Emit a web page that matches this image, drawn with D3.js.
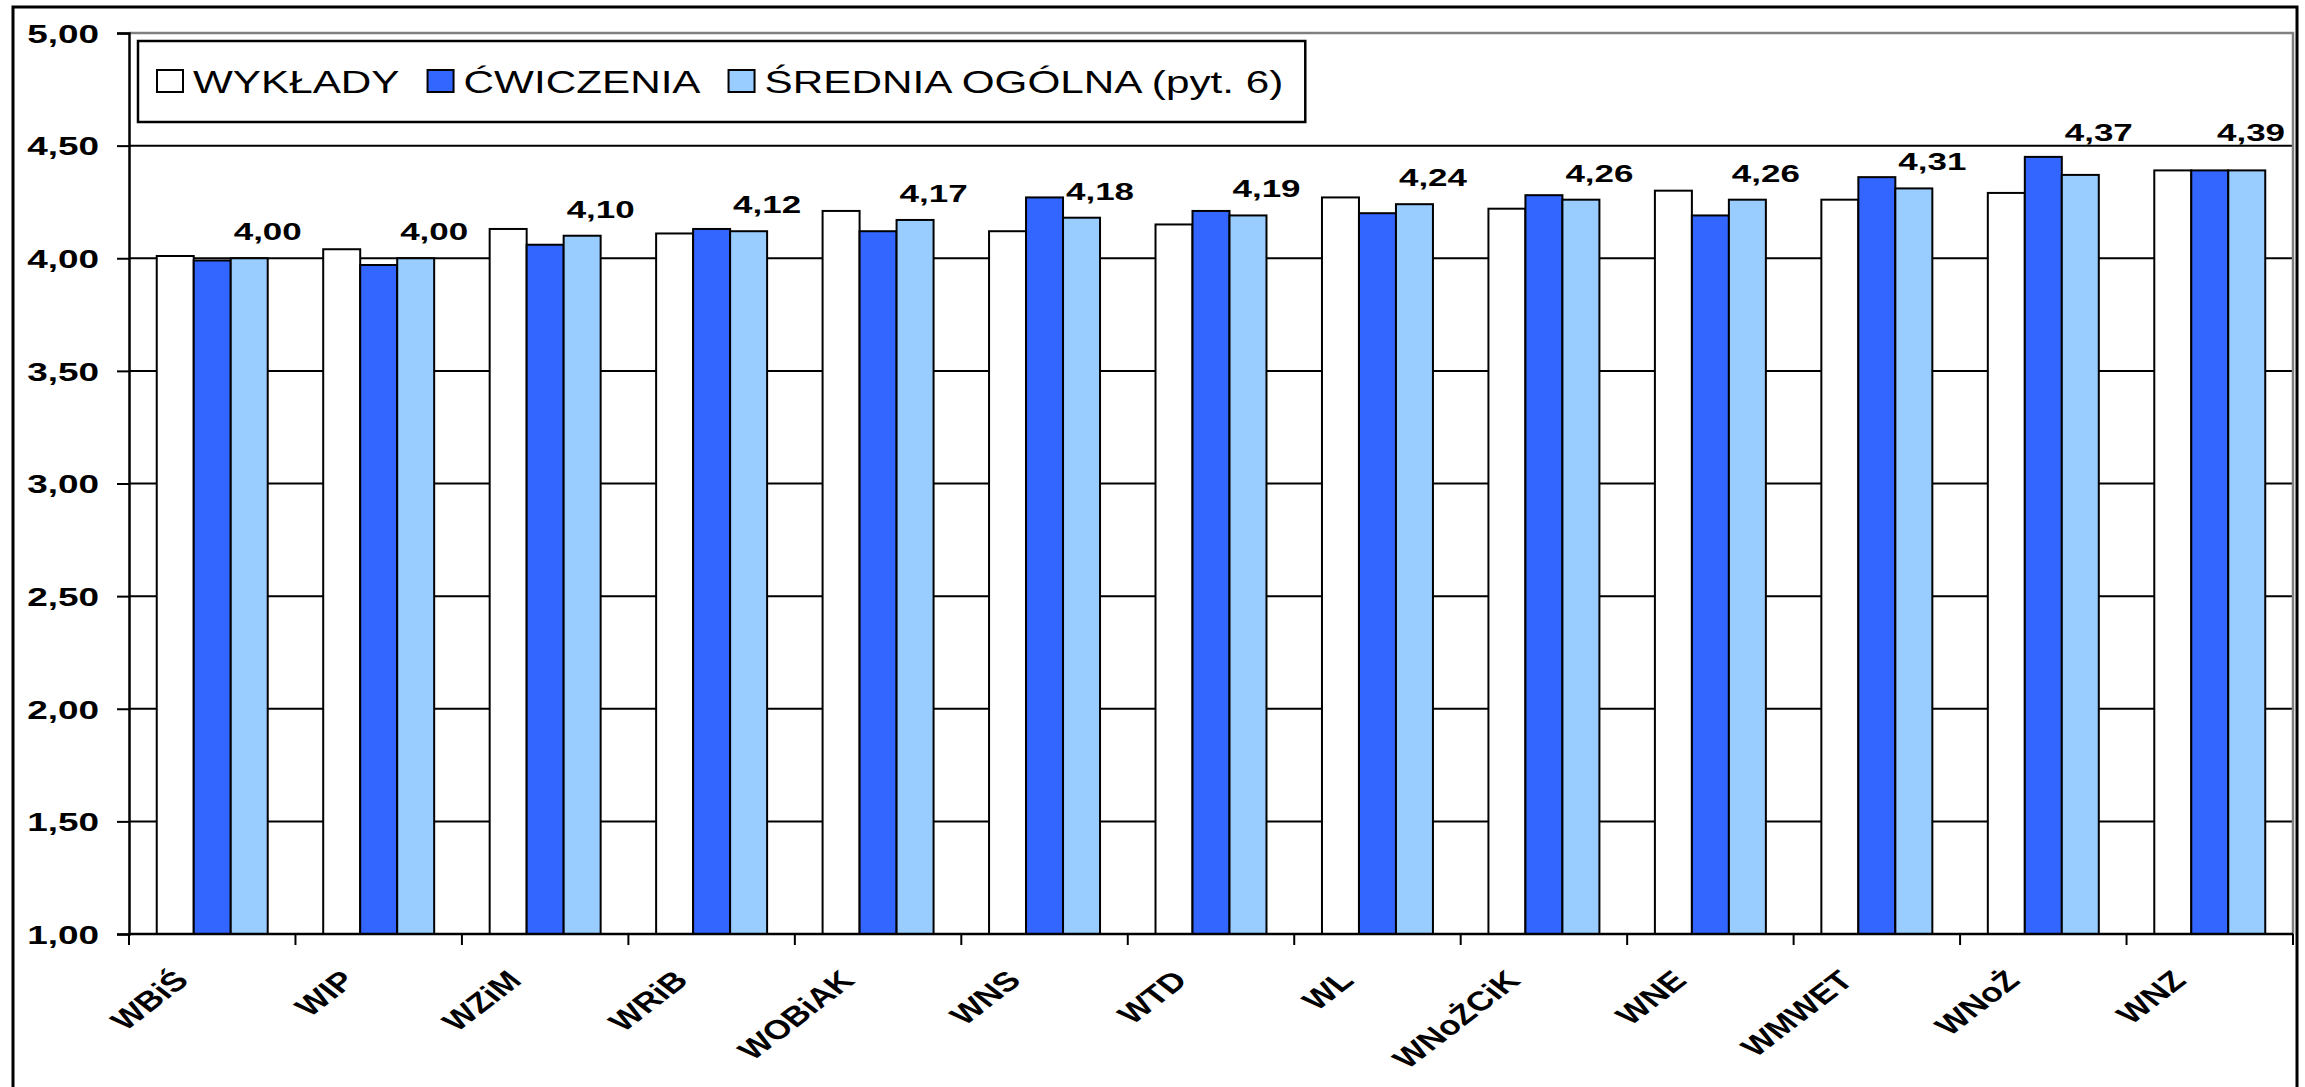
<!DOCTYPE html>
<html>
<head>
<meta charset="utf-8">
<script src="https://cdn.jsdelivr.net/npm/d3@7"></script>
<style>
  body { margin: 0; background: #fff; }
  svg { display: block; font-family: "Liberation Sans", Arial, sans-serif; }
</style>
</head>
<body>
<div id="chart"></div>
<script>
// categories (faculties) and the three series
const categories = ["WBiŚ", "WIP", "WZiM", "WRiB", "WOBiAK", "WNS", "WTD", "WL", "WNoŻCiK", "WNE", "WMWET", "WNoŻ", "WNZ"];
const wyklady    = [4.01, 4.04, 4.13, 4.11, 4.21, 4.12, 4.15, 4.27, 4.22, 4.30, 4.26, 4.29, 4.39];
const cwiczenia  = [3.99, 3.97, 4.06, 4.13, 4.12, 4.27, 4.21, 4.20, 4.28, 4.19, 4.36, 4.45, 4.39];
const srednia    = [4.00, 4.00, 4.10, 4.12, 4.17, 4.18, 4.19, 4.24, 4.26, 4.26, 4.31, 4.37, 4.39];
const seriesNames = ["WYKŁADY", "ĆWICZENIA", "ŚREDNIA OGÓLNA (pyt. 6)"];
const seriesColors = ["#ffffff", "#3366ff", "#99ccff"];
const yTicks = [1.00, 1.50, 2.00, 2.50, 3.00, 3.50, 4.00, 4.50, 5.00];

const W = 2305, H = 1087;
const plot = { left: 129, right: 2293, top: 33, bottom: 934 };

const svg = d3.select("#chart").append("svg")
    .attr("width", W)
    .attr("height", H);

// outer chart border (bottom edge runs off the picture)
svg.append("rect")
    .attr("x", 13).attr("y", 7)
    .attr("width", 2284).attr("height", 1110)
    .attr("fill", "#fff")
    .attr("stroke", "#000")
    .attr("stroke-width", 3);

const y = d3.scaleLinear().domain([1, 5]).range([plot.bottom, plot.top]);
const x = d3.scaleBand().domain(categories)
    .range([plot.left, plot.right])
    .paddingInner(1.5 / 4.5)
    .paddingOuter(0.75 / 4.5);
const xSub = d3.scaleBand().domain(d3.range(3)).range([0, x.bandwidth()]);
const xEdge = d3.scaleLinear().domain([0, categories.length]).range([plot.left, plot.right]);

const fmt = v => d3.format(".2f")(v).replace(".", ",");

// gridlines
svg.append("g").selectAll("line")
    .data(yTicks.filter(v => v > 1 && v < 5))
    .join("line")
    .attr("x1", plot.left).attr("x2", plot.right)
    .attr("y1", d => y(d)).attr("y2", d => y(d))
    .attr("stroke", "#000")
    .attr("stroke-width", 2);

// plot area frame (top + right, grey)
svg.append("path")
    .attr("d", `M${plot.left},${y(5)}H${plot.right}V${plot.bottom}`)
    .attr("fill", "none")
    .attr("stroke", "#808080")
    .attr("stroke-width", 2.5);

// bars
const table = categories.map((c, i) => ({ cat: c, vals: [wyklady[i], cwiczenia[i], srednia[i]] }));
const groups = svg.append("g").selectAll("g")
    .data(table)
    .join("g")
    .attr("transform", d => `translate(${x(d.cat)},0)`);

groups.selectAll("rect")
    .data(d => d.vals)
    .join("rect")
    .attr("x", (d, i) => xSub(i))
    .attr("width", xSub.bandwidth())
    .attr("y", d => y(d))
    .attr("height", d => y(1) - y(d))
    .attr("fill", (d, i) => seriesColors[i])
    .attr("stroke", "#000")
    .attr("stroke-width", 2);

// y axis
const ySx = 1.42;
const yAxis = svg.append("g")
    .attr("transform", `translate(${plot.left},0)`)
    .call(d3.axisLeft(y).tickValues(yTicks).tickSize(12).tickFormat(fmt));
yAxis.select(".domain").attr("stroke", "#000").attr("stroke-width", 2.5);
yAxis.selectAll(".tick line").attr("stroke", "#000").attr("stroke-width", 2);
yAxis.selectAll(".tick text")
    .attr("x", -30 / ySx)
    .attr("dy", "0.36em")
    .attr("transform", `scale(${ySx},1)`)
    .attr("fill", "#000")
    .style("font-size", "26px")
    .style("font-weight", "bold");

// x axis line and boundary ticks
svg.append("line")
    .attr("x1", plot.left).attr("x2", plot.right)
    .attr("y1", plot.bottom).attr("y2", plot.bottom)
    .attr("stroke", "#000").attr("stroke-width", 2.5);
svg.append("g").selectAll("line")
    .data(d3.range(categories.length + 1))
    .join("line")
    .attr("x1", d => xEdge(d)).attr("x2", d => xEdge(d))
    .attr("y1", plot.bottom).attr("y2", plot.bottom + 11)
    .attr("stroke", "#000").attr("stroke-width", 2);

// category labels, rotated (the original picture is stretched sideways)
svg.append("g").selectAll("text")
    .data(categories)
    .join("text")
    .attr("transform", d => `translate(${x(d) + x.bandwidth() / 2 - 22},${plot.bottom + 48}) scale(1.3,1) rotate(-45)`)
    .attr("text-anchor", "end")
    .style("font-size", "27px")
    .style("font-weight", "bold")
    .text(d => d);

// data labels for the overall mean
const lblSx = 1.52, lblCap = 17;
const labels = svg.append("g").selectAll("g")
    .data(table)
    .join("g");
labels.append("text")
    .attr("text-anchor", "middle")
    .attr("transform", `scale(${lblSx},1)`)
    .style("font-size", "23px")
    .style("font-weight", "bold")
    .text(d => fmt(d.vals[2]));
labels.attr("transform", function (d) {
    const half = this.querySelector("text").getComputedTextLength() * lblSx / 2;
    let cx = x(d.cat) + x.bandwidth();
    if (cx + half > plot.right - 8) cx = plot.right - 8 - half;
    let base = y(d.vals[2]) - 18;
    // keep the label off the 4,50 gridline
    if (base > y(4.5) - 3 && base - lblCap < y(4.5) + 3) base = y(4.5) - 5;
    return `translate(${cx},${base})`;
});

// legend
const leg = svg.append("g");
const legBox = leg.append("rect")
    .attr("x", 138).attr("y", 41)
    .attr("height", 81)
    .attr("fill", "#fff")
    .attr("stroke", "#000")
    .attr("stroke-width", 2.5);
const legSx = 1.32;
let lx = 157;
seriesNames.forEach((name, i) => {
    leg.append("rect")
        .attr("x", lx).attr("y", 70)
        .attr("width", 26).attr("height", 22)
        .attr("fill", seriesColors[i])
        .attr("stroke", "#000")
        .attr("stroke-width", 2);
    const t = leg.append("text")
        .attr("transform", `translate(${lx + 36},93) scale(${legSx},1)`)
        .style("font-size", "32px")
        .text(name);
    lx += 36 + t.node().getComputedTextLength() * legSx + 28;
});
legBox.attr("width", lx - 28 + 22 - 138);
</script>
</body>
</html>
